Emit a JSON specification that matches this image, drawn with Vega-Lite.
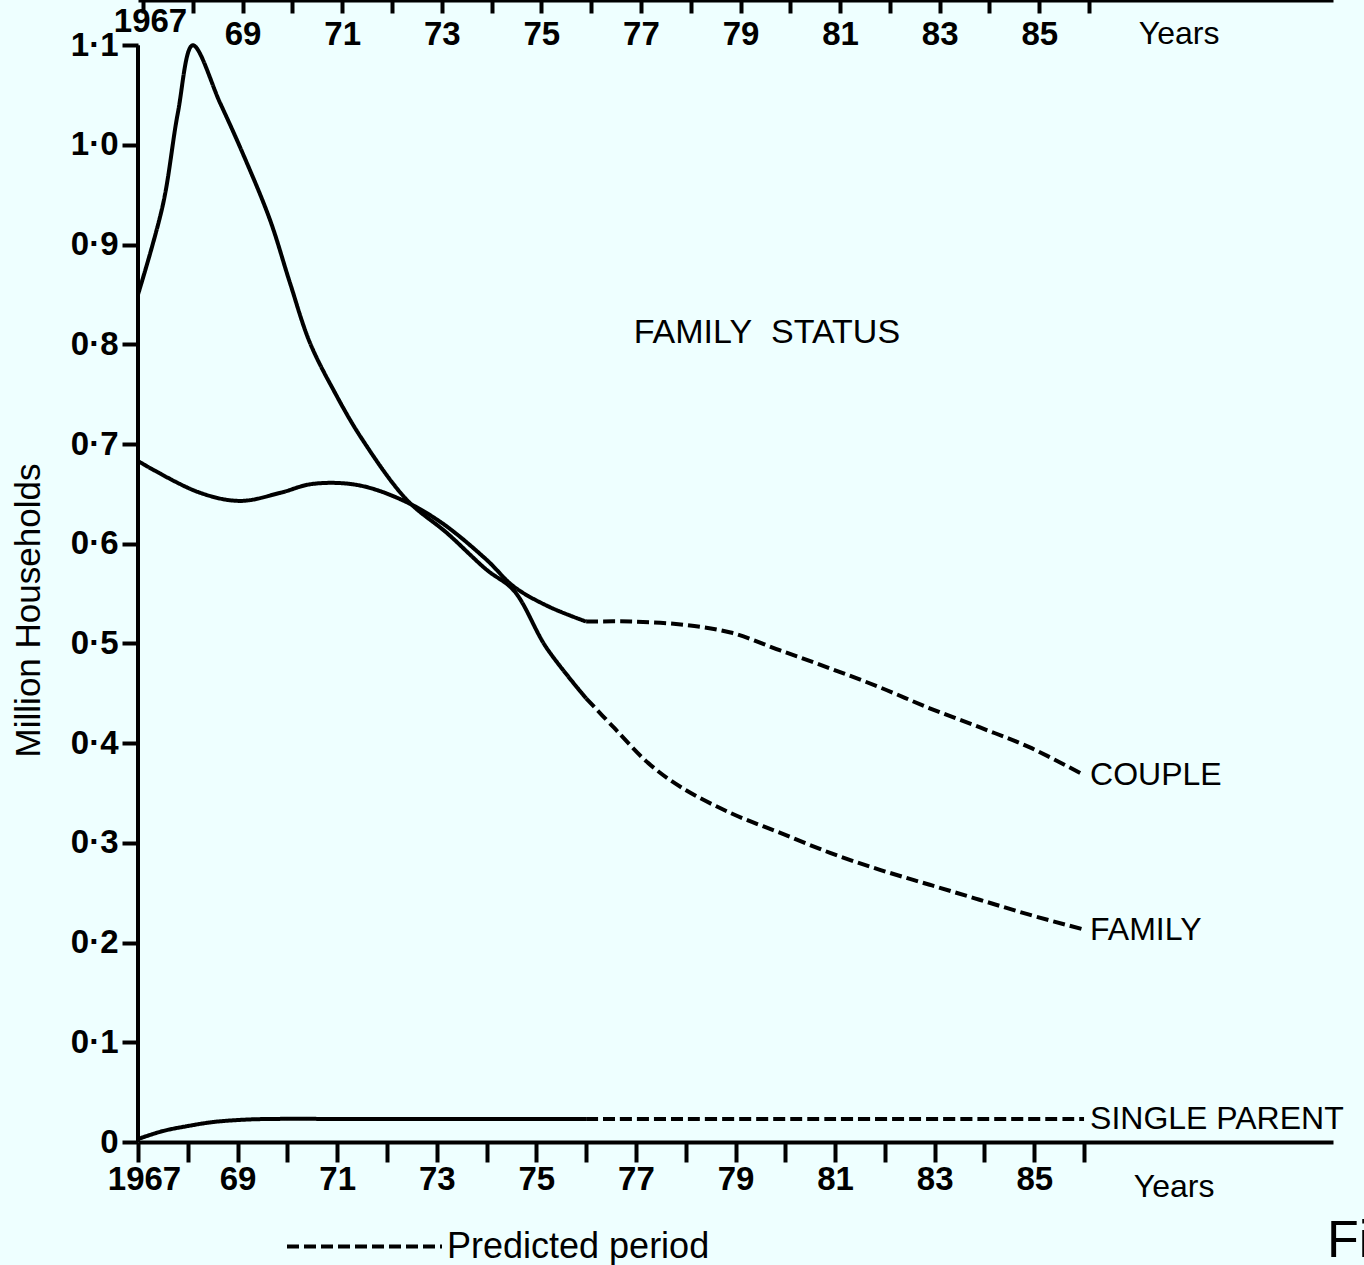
{
  "$schema": "https://vega.github.io/schema/vega-lite/v6.json",
  "width": 1195,
  "height": 1142,
  "autosize": {"type": "none"},
  "padding": {"left": 138, "top": 0, "right": 31, "bottom": 123},
  "background": "#eeffff",
  "config": {
    "view": {"stroke": null},
    "axis": {"grid": false, "domainColor": "#000", "tickColor": "#000", "labelColor": "#000", "titleColor": "#000"}
  },
  "datasets": {
    "households": [
      {"series": "FAMILY", "period": "Observed", "year": 1967.0, "households": 0.850},
      {"series": "FAMILY", "period": "Observed", "year": 1967.5, "households": 0.940},
      {"series": "FAMILY", "period": "Observed", "year": 1967.8, "households": 1.032},
      {"series": "FAMILY", "period": "Observed", "year": 1968.1, "households": 1.100},
      {"series": "FAMILY", "period": "Observed", "year": 1968.65, "households": 1.042},
      {"series": "FAMILY", "period": "Observed", "year": 1969.1, "households": 0.992},
      {"series": "FAMILY", "period": "Observed", "year": 1969.65, "households": 0.925},
      {"series": "FAMILY", "period": "Observed", "year": 1970.05, "households": 0.862},
      {"series": "FAMILY", "period": "Observed", "year": 1970.45, "households": 0.802},
      {"series": "FAMILY", "period": "Observed", "year": 1970.95, "households": 0.752},
      {"series": "FAMILY", "period": "Observed", "year": 1971.5, "households": 0.705},
      {"series": "FAMILY", "period": "Observed", "year": 1972.4, "households": 0.644},
      {"series": "FAMILY", "period": "Observed", "year": 1973.2, "households": 0.611},
      {"series": "FAMILY", "period": "Observed", "year": 1974.0, "households": 0.574},
      {"series": "FAMILY", "period": "Observed", "year": 1974.55, "households": 0.553},
      {"series": "FAMILY", "period": "Observed", "year": 1975.2, "households": 0.496},
      {"series": "FAMILY", "period": "Observed", "year": 1976.0, "households": 0.445},
      {"series": "FAMILY", "period": "Predicted period", "year": 1976.0, "households": 0.445},
      {"series": "FAMILY", "period": "Predicted period", "year": 1976.55, "households": 0.416},
      {"series": "FAMILY", "period": "Predicted period", "year": 1977.25, "households": 0.380},
      {"series": "FAMILY", "period": "Predicted period", "year": 1977.9, "households": 0.356},
      {"series": "FAMILY", "period": "Predicted period", "year": 1978.9, "households": 0.330},
      {"series": "FAMILY", "period": "Predicted period", "year": 1979.9, "households": 0.310},
      {"series": "FAMILY", "period": "Predicted period", "year": 1980.9, "households": 0.290},
      {"series": "FAMILY", "period": "Predicted period", "year": 1981.9, "households": 0.273},
      {"series": "FAMILY", "period": "Predicted period", "year": 1982.9, "households": 0.258},
      {"series": "FAMILY", "period": "Predicted period", "year": 1983.9, "households": 0.243},
      {"series": "FAMILY", "period": "Predicted period", "year": 1984.9, "households": 0.228},
      {"series": "FAMILY", "period": "Predicted period", "year": 1986.0, "households": 0.213},
      {"series": "COUPLE", "period": "Observed", "year": 1967.0, "households": 0.683},
      {"series": "COUPLE", "period": "Observed", "year": 1968.2, "households": 0.652},
      {"series": "COUPLE", "period": "Observed", "year": 1969.05, "households": 0.643},
      {"series": "COUPLE", "period": "Observed", "year": 1969.85, "households": 0.651},
      {"series": "COUPLE", "period": "Observed", "year": 1970.5, "households": 0.660},
      {"series": "COUPLE", "period": "Observed", "year": 1971.4, "households": 0.659},
      {"series": "COUPLE", "period": "Observed", "year": 1972.3, "households": 0.644},
      {"series": "COUPLE", "period": "Observed", "year": 1973.1, "households": 0.621},
      {"series": "COUPLE", "period": "Observed", "year": 1974.0, "households": 0.584},
      {"series": "COUPLE", "period": "Observed", "year": 1974.55, "households": 0.557},
      {"series": "COUPLE", "period": "Observed", "year": 1975.25, "households": 0.537},
      {"series": "COUPLE", "period": "Observed", "year": 1976.0, "households": 0.522},
      {"series": "COUPLE", "period": "Predicted period", "year": 1976.0, "households": 0.522},
      {"series": "COUPLE", "period": "Predicted period", "year": 1976.9, "households": 0.522},
      {"series": "COUPLE", "period": "Predicted period", "year": 1977.9, "households": 0.519},
      {"series": "COUPLE", "period": "Predicted period", "year": 1978.9, "households": 0.511},
      {"series": "COUPLE", "period": "Predicted period", "year": 1979.9, "households": 0.493},
      {"series": "COUPLE", "period": "Predicted period", "year": 1980.9, "households": 0.475},
      {"series": "COUPLE", "period": "Predicted period", "year": 1981.9, "households": 0.456},
      {"series": "COUPLE", "period": "Predicted period", "year": 1982.9, "households": 0.435},
      {"series": "COUPLE", "period": "Predicted period", "year": 1983.9, "households": 0.416},
      {"series": "COUPLE", "period": "Predicted period", "year": 1984.9, "households": 0.396},
      {"series": "COUPLE", "period": "Predicted period", "year": 1986.0, "households": 0.368},
      {"series": "SINGLE PARENT", "period": "Observed", "year": 1967.0, "households": 0.003},
      {"series": "SINGLE PARENT", "period": "Observed", "year": 1967.5, "households": 0.011},
      {"series": "SINGLE PARENT", "period": "Observed", "year": 1968.0, "households": 0.016},
      {"series": "SINGLE PARENT", "period": "Observed", "year": 1968.5, "households": 0.020},
      {"series": "SINGLE PARENT", "period": "Observed", "year": 1969.0, "households": 0.022},
      {"series": "SINGLE PARENT", "period": "Observed", "year": 1969.5, "households": 0.023},
      {"series": "SINGLE PARENT", "period": "Observed", "year": 1972.0, "households": 0.023},
      {"series": "SINGLE PARENT", "period": "Observed", "year": 1976.0, "households": 0.023},
      {"series": "SINGLE PARENT", "period": "Predicted period", "year": 1976.0, "households": 0.023},
      {"series": "SINGLE PARENT", "period": "Predicted period", "year": 1981.0, "households": 0.023},
      {"series": "SINGLE PARENT", "period": "Predicted period", "year": 1986.0, "households": 0.023}
    ]
  },
  "resolve": {"axis": {"x": "independent"}},
  "layer": [
    {
      "data": {"name": "households"},
      "mark": {"type": "line", "interpolate": "catmull-rom", "strokeWidth": 4, "color": "#000"},
      "encoding": {
        "x": {
          "field": "year",
          "type": "quantitative",
          "scale": {"domain": [1967, 1991], "nice": false, "zero": false},
          "axis": {
            "orient": "bottom",
            "title": null,
            "values": [1967, 1968, 1969, 1970, 1971, 1972, 1973, 1974, 1975, 1976, 1977, 1978, 1979, 1980, 1981, 1982, 1983, 1984, 1985, 1986, 1987.8],
            "labelExpr": "datum.value > 1987 ? 'Years' : datum.value == 1967 ? '1967' : (datum.value % 2 == 1 ? substring(toString(datum.value), 2) : '')",
            "domainWidth": 4,
            "tickWidth": 4,
            "tickSize": 20,
            "tickOpacity": {"condition": {"test": "datum.value > 1987", "value": 0}, "value": 1},
            "labelPadding": {"condition": {"test": "datum.value > 1987", "value": 9}, "value": 1},
            "labelOffset": {"condition": {"test": "datum.value == 1967", "value": 6}, "value": 0},
            "labelBaseline": "top",
            "labelFont": "Liberation Sans",
            "labelFontWeight": {"condition": {"test": "datum.value > 1987", "value": "normal"}, "value": "bold"},
            "labelFontSize": {"condition": {"test": "datum.value > 1987", "value": 32}, "value": 33},
            "labelOverlap": false,
            "labelFlush": false,
            "labelBound": false
          }
        },
        "y": {
          "field": "households",
          "type": "quantitative",
          "scale": {"domain": [0, 1.1454], "nice": false},
          "axis": {
            "orient": "left",
            "values": [0, 0.1, 0.2, 0.3, 0.4, 0.5, 0.6, 0.7, 0.8, 0.9, 1.0, 1.1],
            "labelExpr": "datum.value == 0 ? '0' : floor(datum.value + 0.001) + '\u00b7' + (round(datum.value * 10) % 10)",
            "domain": false,
            "tickWidth": 4,
            "tickSize": 16,
            "labelPadding": 4,
            "labelFont": "Liberation Sans",
            "labelFontWeight": "bold",
            "labelFontSize": 33,
            "labelBaseline": "middle",
            "labelOverlap": false,
            "labelFlush": false,
            "title": "Million Households",
            "titleFont": "Liberation Sans",
            "titleFontSize": 35,
            "titleFontWeight": "normal",
            "titleAngle": -90,
            "titleX": -110,
            "titleY": 610,
            "titleAlign": "center",
            "titleBaseline": "middle"
          }
        },
        "detail": {"field": "series"},
        "strokeDash": {
          "field": "period",
          "type": "nominal",
          "scale": {"domain": ["Observed", "Predicted period"], "range": [[1, 0], [12, 5]]},
          "legend": {
            "orient": "none",
            "legendX": 147,
            "legendY": 1167,
            "values": ["Predicted period"],
            "title": null,
            "padding": 0,
            "symbolType": "stroke",
            "symbolSize": 24025,
            "symbolStrokeWidth": 4,
            "symbolStrokeColor": "#000",
            "labelFont": "Liberation Sans",
            "labelFontSize": 36,
            "labelColor": "#000",
            "labelOffset": 3,
            "labelLimit": 0
          }
        }
      }
    },
    {
      "data": {"values": [{"start": 0, "end": 1.1}]},
      "mark": {"type": "rule", "strokeWidth": 4, "color": "#000"},
      "encoding": {
        "x": {"datum": 1967, "type": "quantitative", "axis": null},
        "y": {"field": "start", "type": "quantitative"},
        "y2": {"field": "end"}
      }
    },
    {
      "data": {"name": "households"},
      "transform": [{"filter": "datum.year == 1986"}],
      "mark": {"type": "text", "align": "left", "baseline": "middle", "dx": 6, "font": "Liberation Sans", "fontSize": 32, "color": "#000"},
      "encoding": {
        "x": {
          "field": "year",
          "type": "quantitative",
          "axis": {
            "orient": "top",
            "title": null,
            "values": [1967, 1968, 1969, 1970, 1971, 1972, 1973, 1974, 1975, 1976, 1977, 1978, 1979, 1980, 1981, 1982, 1983, 1984, 1985, 1986, 1987.8],
            "labelExpr": "datum.value > 1987 ? 'Years' : datum.value == 1967 ? '1967' : (datum.value % 2 == 1 ? substring(toString(datum.value), 2) : '')",
            "domainWidth": 4,
            "tickWidth": 4,
            "tickSize": -13,
            "tickOffset": 5,
            "tickOpacity": {"condition": {"test": "datum.value > 1987", "value": 0}, "value": 1},
            "labelPadding": {"condition": {"test": "datum.value == 1967", "value": 8}, "value": -5},
            "labelOffset": {"condition": {"test": "datum.value == 1967", "value": 7}, "value": 0},
            "labelBaseline": "top",
            "labelFont": "Liberation Sans",
            "labelFontWeight": {"condition": {"test": "datum.value > 1987", "value": "normal"}, "value": "bold"},
            "labelFontSize": {"condition": {"test": "datum.value > 1987", "value": 32}, "value": 33},
            "labelOverlap": false,
            "labelFlush": false,
            "labelBound": false
          }
        },
        "y": {"field": "households", "type": "quantitative"},
        "text": {"field": "series"}
      }
    },
    {
      "data": {"values": [{}]},
      "mark": {"type": "text", "align": "center", "baseline": "middle", "font": "Liberation Sans", "fontSize": 34, "color": "#000"},
      "encoding": {
        "x": {"datum": 1979.63, "type": "quantitative", "axis": null},
        "y": {"datum": 0.811, "type": "quantitative"},
        "text": {"value": "FAMILY\u00a0 STATUS"}
      }
    },
    {
      "data": {"values": [{}]},
      "mark": {"type": "text", "align": "left", "baseline": "alphabetic", "font": "Liberation Sans", "fontSize": 52, "color": "#000"},
      "encoding": {
        "x": {"datum": 1990.88, "type": "quantitative", "axis": null},
        "y": {"datum": -0.115, "type": "quantitative"},
        "text": {"value": "Fig."}
      }
    }
  ]
}
